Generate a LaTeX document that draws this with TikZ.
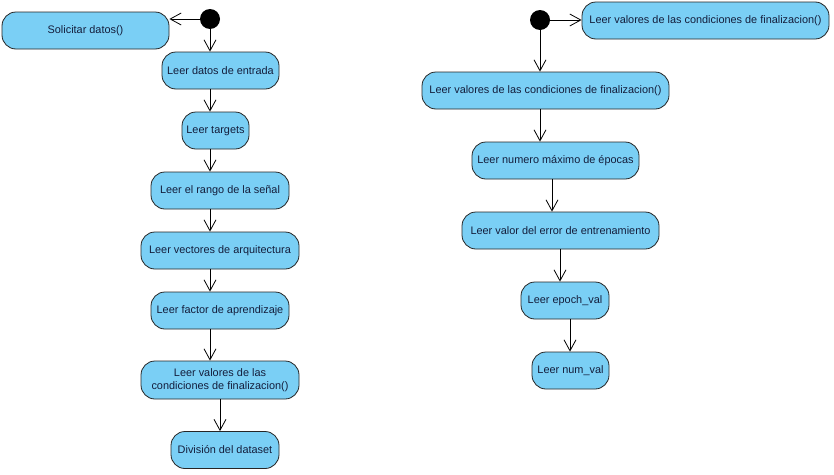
\documentclass[tikz,border=0pt]{standalone}
\usepackage{fontspec}
\setmainfont{Liberation Sans}
\usetikzlibrary{arrows.meta}
\definecolor{actfill}{RGB}{122,207,245}
\definecolor{acttext}{RGB}{20,30,60}
\begin{document}
\begin{tikzpicture}[x=1pt,y=-1pt,
  act/.style={draw=black!85,fill=actfill,line width=0.8pt,rounded corners=14pt,
    minimum height=37pt,inner sep=1pt,text=acttext,font=\fontsize{10.9}{13.5}\selectfont,align=center},
  startnode/.style={circle,fill=black,inner sep=0pt,minimum size=20pt},
  flow/.style={draw=black,line width=0.8pt,-{Straight Barb[length=11pt,width=12pt,line width=0.8pt]}}]
\useasboundingbox (0,0) rectangle (834,474);
\fill[white] (0,0) rectangle (834,474);
% left column
\node[startnode] (s1) at (210,19) {};
\node[act,minimum width=167pt] (a0) at (85.5,30.5) {Solicitar datos()};
\node[act,minimum width=117pt] (a1) at (220.5,70.5) {Leer datos de entrada};
\node[act,minimum width=67pt] (a2) at (215.5,130.5) {Leer targets};
\node[act,minimum width=138pt] (a3) at (220,190.5) {Leer el rango de la señal};
\node[act,minimum width=158pt] (a4) at (220,250.5) {Leer vectores de arquitectura};
\node[act,minimum width=138pt] (a5) at (220,310.5) {Leer factor de aprendizaje};
\node[act,minimum width=158pt,minimum height=38pt] (a6) at (220,380) {Leer valores de las\\condiciones de finalizacion()};
\node[act,minimum width=108pt] (a7) at (225,450) {División del dataset};
\draw[flow] (s1.west) -- (a0.east |- s1.west);
\draw[flow] (s1) -- (s1 |- a1.north);
\draw[flow] (a1.south -| s1) -- (a2.north -| s1);
\draw[flow] (a2.south -| s1) -- (a3.north -| s1);
\draw[flow] (a3.south -| s1) -- (a4.north -| s1);
\draw[flow] (a4.south -| s1) -- (a5.north -| s1);
\draw[flow] (a5.south -| s1) -- (a6.north -| s1);
\draw[flow] (a6.south) -- (a7.north -| a6.south);
% right column
\node[startnode] (s2) at (540,20) {};
\node[act,minimum width=247pt] (b0) at (705.5,20.5) {Leer valores de las condiciones de finalizacion()};
\node[act,minimum width=247pt] (b1) at (545.5,90.5) {Leer valores de las condiciones de finalizacion()};
\node[act,minimum width=167pt] (b2) at (555.5,160.5) {Leer numero máximo de épocas};
\node[act,minimum width=197pt] (b3) at (560.5,230.5) {Leer valor del error de entrenamiento};
\node[act,minimum width=88pt] (b4) at (565,300.5) {Leer epoch\_val};
\node[act,minimum width=77pt] (b5) at (570.5,370.5) {Leer num\_val};
\coordinate (c1) at (552,0);
\coordinate (c2) at (560,0);
\coordinate (c3) at (570,0);
\draw[flow] (s2.east) -- (b0.west |- s2.east);
\draw[flow] (s2) -- (s2 |- b1.north);
\draw[flow] (b1.south -| s2) -- (b2.north -| s2);
\draw[flow] (b2.south -| c1) -- (b3.north -| c1);
\draw[flow] (b3.south -| c2) -- (b4.north -| c2);
\draw[flow] (b4.south -| c3) -- (b5.north -| c3);
\end{tikzpicture}
\end{document}
